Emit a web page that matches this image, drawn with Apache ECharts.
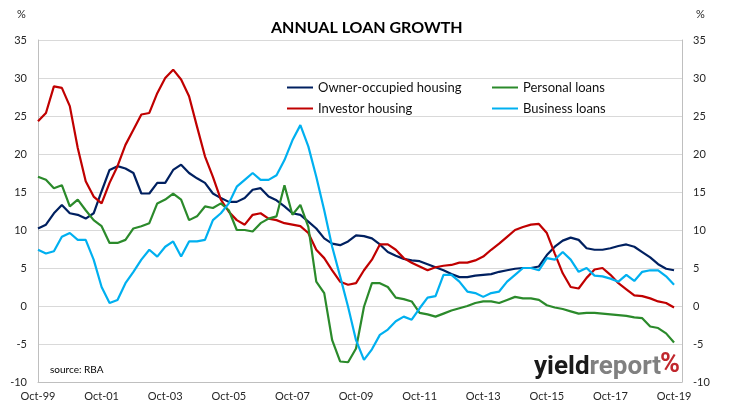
<!DOCTYPE html>
<html>
<head>
<meta charset="utf-8">
<script src="https://cdn.jsdelivr.net/npm/echarts@6/dist/echarts.min.js"></script>
<style>
  html, body { margin: 0; padding: 0; background: #fff; }
  #main { width: 731px; height: 409px; }
</style>
</head>
<body>
<div id="main"></div>
<script>
// quarterly points, Oct-99 .. Oct-19 (plus one empty slot so the axis runs past the last point)
var quarterNames = ['Jan', 'Apr', 'Jul', 'Oct'];
var categories = [];
for (var y = 1999; y <= 2020; y++) {
    for (var q = 0; q < 4; q++) {
        if (y === 1999 && q < 3) continue;
        if (y === 2020 && q > 0) continue;
        categories.push(quarterNames[q] + '-' + String(y).slice(2));
    }
}

var tickLabels = ['Oct-99', 'Oct-01', 'Oct-03', 'Oct-05', 'Oct-07', 'Oct-09',
                  'Oct-11', 'Oct-13', 'Oct-15', 'Oct-17', 'Oct-19'];

var ownerOccupied = [
    10.2, 10.7, 12.2, 13.3, 12.2, 12.0, 11.5, 12.2, 15.1, 17.9, 18.4, 18.1, 17.5, 14.8,
    14.8, 16.2, 16.2, 17.9, 18.6, 17.5, 16.8, 16.2, 14.8, 14.2, 13.7, 13.7, 14.2, 15.3,
    15.5, 14.4, 13.9, 13.1, 12.2, 12.0, 11.1, 10.2, 8.9, 8.2, 8.0, 8.5, 9.3, 9.2,
    8.9, 8.1, 7.1, 6.6, 6.2, 6.0, 5.9, 5.5, 5.1, 4.7, 4.2, 3.8, 3.8, 4.0,
    4.1, 4.2, 4.5, 4.7, 4.9, 5.0, 5.0, 5.2, 6.7, 7.8, 8.6, 9.0, 8.7, 7.6,
    7.4, 7.4, 7.6, 7.9, 8.1, 7.8, 7.1, 6.4, 5.5, 4.9, 4.7
];

var investor = [
    24.3, 25.4, 28.9, 28.7, 26.3, 20.8, 16.4, 14.4, 13.5, 16.2, 18.4, 21.2, 23.2, 25.2,
    25.4, 28.0, 30.0, 31.1, 29.8, 27.6, 23.6, 19.7, 17.0, 14.0, 12.4, 11.3, 10.7, 12.0,
    12.2, 11.5, 11.3, 10.9, 10.7, 10.5, 9.6, 7.4, 6.3, 4.7, 3.2, 2.8, 3.0, 4.7,
    6.1, 8.1, 8.1, 7.4, 6.3, 5.7, 5.2, 4.7, 5.1, 5.3, 5.4, 5.7, 5.7, 6.0,
    6.5, 7.4, 8.2, 9.1, 10.0, 10.4, 10.7, 10.8, 9.6, 6.9, 4.3, 2.5, 2.3, 3.7,
    4.8, 5.0, 4.1, 3.0, 2.2, 1.4, 1.3, 1.0, 0.6, 0.4, -0.2
];

var personal = [
    17.0, 16.6, 15.5, 15.9, 13.1, 14.0, 12.6, 11.3, 10.5, 8.3, 8.3, 8.7, 10.2, 10.5,
    10.9, 13.5, 14.0, 14.8, 14.0, 11.3, 11.8, 13.1, 12.9, 13.5, 12.6, 10.0, 10.0, 9.8,
    10.9, 11.5, 11.8, 15.9, 12.0, 13.3, 10.4, 3.2, 1.7, -4.5, -7.3, -7.4, -5.6, -0.1,
    3.0, 3.0, 2.5, 1.1, 0.9, 0.6, -0.9, -1.1, -1.4, -1.0, -0.6, -0.3, 0.0, 0.4,
    0.6, 0.6, 0.4, 0.8, 1.2, 1.0, 1.0, 0.8, 0.1, -0.2, -0.4, -0.7, -1.0, -0.9,
    -0.9, -1.0, -1.1, -1.2, -1.3, -1.5, -1.6, -2.7, -2.9, -3.6, -4.8
];

var business = [
    7.4, 6.9, 7.2, 9.1, 9.6, 8.7, 8.7, 6.1, 2.5, 0.4, 0.8, 3.0, 4.5, 6.1,
    7.4, 6.5, 7.8, 8.5, 6.5, 8.5, 8.5, 8.7, 11.3, 12.2, 13.5, 15.7, 16.6, 17.5,
    16.6, 16.6, 17.2, 19.2, 21.8, 23.8, 21.0, 17.0, 12.6, 7.8, 3.9, -0.1, -4.5, -7.1,
    -5.7, -3.8, -3.1, -2.0, -1.4, -1.8, -0.3, 1.1, 1.3, 4.1, 4.1, 3.2, 1.9, 1.7,
    1.2, 1.7, 1.9, 3.2, 4.1, 5.0, 5.0, 4.7, 6.3, 6.1, 7.1, 6.1, 4.5, 5.0,
    4.0, 3.9, 3.6, 3.2, 4.1, 3.3, 4.5, 4.7, 4.7, 3.9, 2.8
];

var font = 'Lato';
var textColor = '#262626';

var myChart = echarts.init(document.getElementById('main'));

function line(name, data, color) {
    return {
        name: name,
        type: 'line',
        data: data,
        symbol: 'none',
        animation: false,
        lineStyle: { width: 2.2, color: color },
        itemStyle: { color: color }
    };
}

var yAxisBase = {
    type: 'value',
    min: -10,
    max: 35,
    interval: 5,
    axisLine: { show: true, lineStyle: { color: '#bfbfbf', width: 1 } },
    axisTick: { show: false },
    axisLabel: { fontFamily: font, fontSize: 11, color: textColor, margin: 11 }
};

var legendBase = {
    orient: 'vertical',
    top: 76,
    itemGap: 8,
    itemWidth: 26,
    itemHeight: 2,
    icon: 'rect',
    textStyle: { fontFamily: font, fontSize: 13, color: '#111' }
};

var logoFont = { fontFamily: 'Roboto', fontWeight: 'bold', fontSize: 26 };

var option = {
    backgroundColor: '#fff',
    title: {
        text: 'ANNUAL LOAN GROWTH',
        left: 266,
        top: 15,
        textStyle: { fontFamily: font, fontSize: 16, fontWeight: 'bold', color: '#000' }
    },
    legend: [
        Object.assign({}, legendBase, { data: ['Owner-occupied housing', 'Investor housing'], left: 282 }),
        Object.assign({}, legendBase, { data: ['Personal loans', 'Business loans'], left: 487 })
    ],
    grid: { left: 38, right: 49, top: 40, bottom: 27 },
    xAxis: {
        type: 'category',
        data: categories,
        boundaryGap: false,
        axisLine: { onZero: false, lineStyle: { color: '#bfbfbf', width: 1 } },
        axisTick: { show: false },
        axisLabel: {
            fontFamily: font, fontSize: 11, color: textColor, margin: 9,
            interval: function (i) { return tickLabels.indexOf(categories[i]) >= 0; }
        },
        splitLine: { show: false }
    },
    yAxis: [
        Object.assign({}, yAxisBase, {
            position: 'left',
            splitLine: { show: true, lineStyle: { color: '#d9d9d9', width: 1 } }
        }),
        Object.assign({}, yAxisBase, {
            position: 'right',
            splitLine: { show: false }
        })
    ],
    series: [
        line('Owner-occupied housing', ownerOccupied, '#002060'),
        line('Investor housing', investor, '#c00000'),
        line('Personal loans', personal, '#2b8a2b'),
        line('Business loans', business, '#00b0f0')
    ],
    graphic: [
        { type: 'text', left: 17, top: 9, style: { text: '%', fontFamily: font, fontSize: 11, fill: textColor } },
        { type: 'text', left: 696, top: 9, style: { text: '%', fontFamily: font, fontSize: 11, fill: textColor } },
        { type: 'text', left: 50, top: 365, style: { text: 'source: RBA', fontFamily: font, fontSize: 10, fill: '#000' } },
        {
            type: 'text', left: 534, top: 354,
            style: {
                text: '{a|yield}{b|report}',
                rich: {
                    a: Object.assign({ fill: '#1a1a1a' }, logoFont),
                    b: Object.assign({ fill: '#808080' }, logoFont)
                }
            }
        },
        {
            type: 'text', left: 660, top: 352,
            style: Object.assign({ text: '%', fill: '#c0272d' }, logoFont, { fontSize: 27 })
        }
    ]
};

myChart.setOption(option);
window.onresize = function () { myChart.resize(); };
</script>
</body>
</html>
